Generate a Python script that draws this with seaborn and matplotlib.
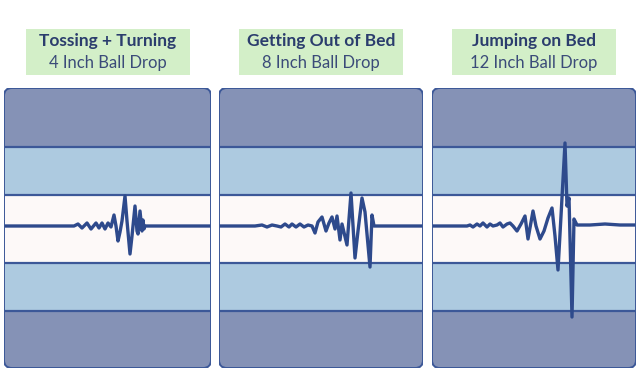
import matplotlib
matplotlib.use("Agg")
import matplotlib.pyplot as plt
from matplotlib.patches import FancyBboxPatch, Rectangle
import seaborn as sns

sns.set_style("white")
plt.rcParams["font.family"] = ["Lato", "DejaVu Sans"]

# ---- data ----
titles = ["Tossing + Turning", "Getting Out of Bed", "Jumping on Bed"]
subtitles = ["4 Inch Ball Drop", "8 Inch Ball Drop", "12 Inch Ball Drop"]

# band edges (amplitude units, top to bottom)
band_edges = [138, 79, 31, -37, -85, -142]

wave1_t = [0, 70, 74, 78, 83, 87, 92, 95, 98, 101, 104, 107, 110, 112, 114, 116, 118,
           121, 123, 126, 128, 131, 133, 134, 136, 138, 139, 140, 141, 207]
wave1_a = [0, 0, 2, -2, 3, -3, 3, -2, 3, -3, 3, -1, 11, 0, -15, -6, 5,
           30, 5, -28, -10, 20, -5, -8, 15, -5, 6, -3, 0, 0]

wave2_t = [0, 36, 43, 48, 53, 58, 62, 66, 70, 73, 77, 81, 85, 89, 93, 96, 99, 103, 107,
           110, 113, 116, 118, 121, 123, 128, 132, 136, 139, 143, 146, 151, 153, 155, 204]
wave2_a = [0, 0, 1, -1, 1, 0, -1, 2, -1, 2, -1, 2, -1, 1, 0, -7, 4, 9, -5,
           3, 9, -3, 10, -14, 2, -19, 33, -32, -5, 28, 14, -41, 11, 0, 0]

wave3_t = [0, 35, 38, 41, 45, 48, 51, 55, 58, 61, 65, 68, 71, 75, 78, 81, 85, 89, 93,
           96, 101, 104, 108, 112, 116, 120, 123, 126, 129, 133, 135, 137, 140,
           142, 145, 158, 173, 188, 204]
wave3_a = [0, 0, 1, -1, 2, 0, 3, -1, 2, 0, 1, 3, -1, 2, 3, 0, -5, 2, 10,
           -13, 15, 0, -13, -5, 8, 18, -10, -44, 10, 83, 20, 28, -91,
           7, 1, 1, 2, 1, 1]

waves = [(wave1_t, wave1_a), (wave2_t, wave2_a), (wave3_t, wave3_a)]

# ---- layout (pixels) ----
W, H = 641, 389
panels_px = [(4, 211), (219, 423), (432, 636)]
panel_top, panel_bot = 88, 368
box_w, box_top, box_bot = 164, 29, 75

dark = "#8592b6"
light = "#adcae0"
white = "#fdf9f8"
navy = "#2e4a8c"
line_col = "#3c5898"
title_col = "#2b3d6d"
sub_col = "#3b4b79"
box_col = "#d3efc8"
band_colors = [dark, light, white, light, dark]

fig = plt.figure(figsize=(W / 100, H / 100), dpi=100)
fig.patch.set_facecolor("white")

for i, (x0, x1) in enumerate(panels_px):
    wpx = x1 - x0
    hpx = panel_bot - panel_top
    ax = fig.add_axes([x0 / W, (H - panel_bot) / H, wpx / W, hpx / H])
    ax.axis("off")
    t, a = waves[i]
    ax.set_xlim(0, t[-1])
    ax.set_ylim(band_edges[-1], band_edges[0])

    r = 8 / wpx
    frame = FancyBboxPatch((0, 0), 1, 1, boxstyle=f"round,pad=0,rounding_size={r}",
                           mutation_aspect=wpx / hpx, transform=ax.transAxes,
                           facecolor="none", edgecolor=line_col, linewidth=1.4, zorder=10)
    ax.add_patch(frame)

    for k, col in enumerate(band_colors):
        s = ax.axhspan(band_edges[k + 1], band_edges[k], color=col, lw=0, zorder=1)
        s.set_clip_path(frame)
    for yv in band_edges[1:-1]:
        ln = ax.axhline(yv, color=line_col, lw=1.6, zorder=2)
        ln.set_clip_path(frame)

    sns.lineplot(x=t, y=a, ax=ax, color=navy, linewidth=2.4, estimator=None,
                 sort=False, legend=False, zorder=5)
    ln = ax.lines[-1]
    ln.set_clip_path(frame)
    ln.set_solid_joinstyle("round")
    ln.set_solid_capstyle("round")

    cx = (x0 + x1) / 2
    bx0 = cx - box_w / 2
    fig.patches.append(Rectangle((bx0 / W, (H - box_bot) / H), box_w / W,
                                 (box_bot - box_top) / H, transform=fig.transFigure,
                                 facecolor=box_col, edgecolor="none", zorder=0))
    fig.text(cx / W, (H - 41) / H, titles[i], ha="center", va="center",
             fontsize=12.5, fontweight="bold", color=title_col)
    fig.text(cx / W, (H - 63) / H, subtitles[i], ha="center", va="center",
             fontsize=12, color=sub_col)

fig.savefig("out.png", dpi=100)
